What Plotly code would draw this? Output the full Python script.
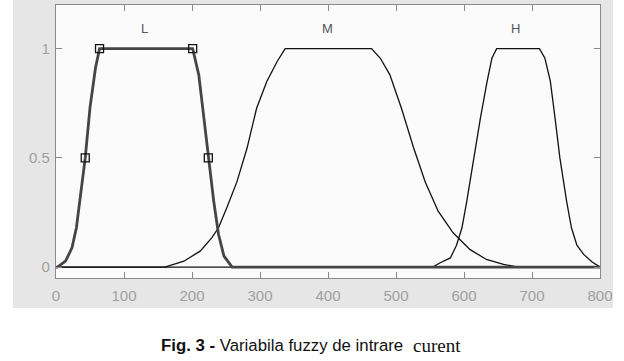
import plotly.graph_objects as go

# ---- data ----
L_x = [0, 2, 14, 23.5, 30, 36, 43, 50, 58, 64, 201, 210, 217, 224, 232, 239, 247, 259, 800]
L_y = [0, 0.0, 0.027, 0.088, 0.18, 0.33, 0.50, 0.73, 0.91, 1.0, 1.0, 0.88, 0.70, 0.50, 0.30, 0.15, 0.05, 0.0, 0]

M_x = [0, 160, 188, 212, 229, 239, 251, 266, 281, 295, 310, 325, 337, 464, 477, 491, 508, 526, 543, 562, 584, 609, 633, 658, 680, 800]
M_y = [0, 0, 0.027, 0.073, 0.134, 0.18, 0.27, 0.39, 0.545, 0.727, 0.85, 0.94, 1.0, 1.0, 0.956, 0.88, 0.727, 0.545, 0.39, 0.256, 0.157, 0.08, 0.035, 0.012, 0, 0]

H_x = [0, 554, 565, 580, 589, 597, 604, 614, 624, 634, 641, 648, 711, 719, 727, 734, 741, 751, 758, 766, 776, 788, 798, 800]
H_y = [0, 0, 0.02, 0.042, 0.10, 0.18, 0.30, 0.50, 0.68, 0.85, 0.956, 1.0, 1.0, 0.956, 0.85, 0.68, 0.50, 0.30, 0.18, 0.10, 0.058, 0.024, 0.005, 0]

L_markers_x = [43, 64, 201, 224]
L_markers_y = [0.5, 1.0, 1.0, 0.5]

mf_names = ["L", "M", "H"]
mf_label_x = [130, 399, 676]
mf_label_y = 1.093

x_ticks = [0, 100, 200, 300, 400, 500, 600, 700, 800]
y_ticks = [0, 0.5, 1]
y_tick_text = ["0", "0.5", "1"]

caption_main = "<b>Fig. 3 -</b> Variabila fuzzy de intrare"
caption_tail = "curent"

fig = go.Figure()
fig.add_trace(go.Scatter(x=M_x, y=M_y, mode="lines",
                         line=dict(color="#111111", width=1.3), hoverinfo="skip"))
fig.add_trace(go.Scatter(x=H_x, y=H_y, mode="lines",
                         line=dict(color="#111111", width=1.3), hoverinfo="skip"))
fig.add_trace(go.Scatter(x=L_x, y=L_y, mode="lines",
                         line=dict(color="#454545", width=2.8), hoverinfo="skip"))
fig.add_trace(go.Scatter(x=L_markers_x, y=L_markers_y, mode="markers",
                         marker=dict(symbol="square-open", size=8, color="#111111",
                                     line=dict(width=1.3)), hoverinfo="skip"))

for name, lx in zip(mf_names, mf_label_x):
    fig.add_annotation(x=lx, y=mf_label_y, text=name, showarrow=False,
                       font=dict(family="Liberation Sans", size=13, color="#555555"))

fig.add_annotation(x=0.189, y=-0.249, xref="paper", yref="paper", text=caption_main,
                   showarrow=False, xanchor="left", yanchor="middle",
                   font=dict(family="Liberation Sans", size=16.8, color="#111111"))
fig.add_annotation(x=0.653, y=-0.246, xref="paper", yref="paper", text=caption_tail,
                   showarrow=False, xanchor="left", yanchor="middle",
                   font=dict(family="Liberation Serif", size=19, color="#111111"))

# grey panel behind the axes, then the near-white plot area
fig.add_shape(type="rect", xref="paper", yref="paper", x0=-0.079, x1=1.024,
              y0=-0.11, y1=1.02, fillcolor="#e6e6e6", line=dict(width=0), layer="below")
fig.add_shape(type="rect", xref="paper", yref="paper", x0=0, x1=1, y0=0, y1=1,
              fillcolor="#fbfbfb", line=dict(width=0), layer="below")

axis_font = dict(family="Liberation Sans", size=15, color="#a0a0a0")
fig.update_xaxes(range=[0, 800], tickvals=x_ticks, ticks="inside", ticklen=6,
                 tickcolor="#8a8a8a", showline=True, linecolor="#8a8a8a", linewidth=1.2,
                 mirror="ticks", showgrid=False, zeroline=False, tickfont=axis_font,
                 ticklabelstandoff=4)
fig.update_yaxes(range=[-0.05, 1.2], tickvals=y_ticks, ticktext=y_tick_text,
                 ticks="inside", ticklen=6, tickcolor="#8a8a8a", showline=True,
                 linecolor="#8a8a8a", linewidth=1.2, mirror="ticks", showgrid=False,
                 zeroline=False, tickfont=axis_font, ticklabelstandoff=2)

fig.update_layout(width=624, height=361, showlegend=False,
                  margin=dict(l=56, r=24, t=5, b=83),
                  paper_bgcolor="white", plot_bgcolor="rgba(0,0,0,0)")

fig.write_html("out.html", config={"displayModeBar": False},
               post_script="document.body.style.margin='0';document.body.style.overflow='hidden';")
